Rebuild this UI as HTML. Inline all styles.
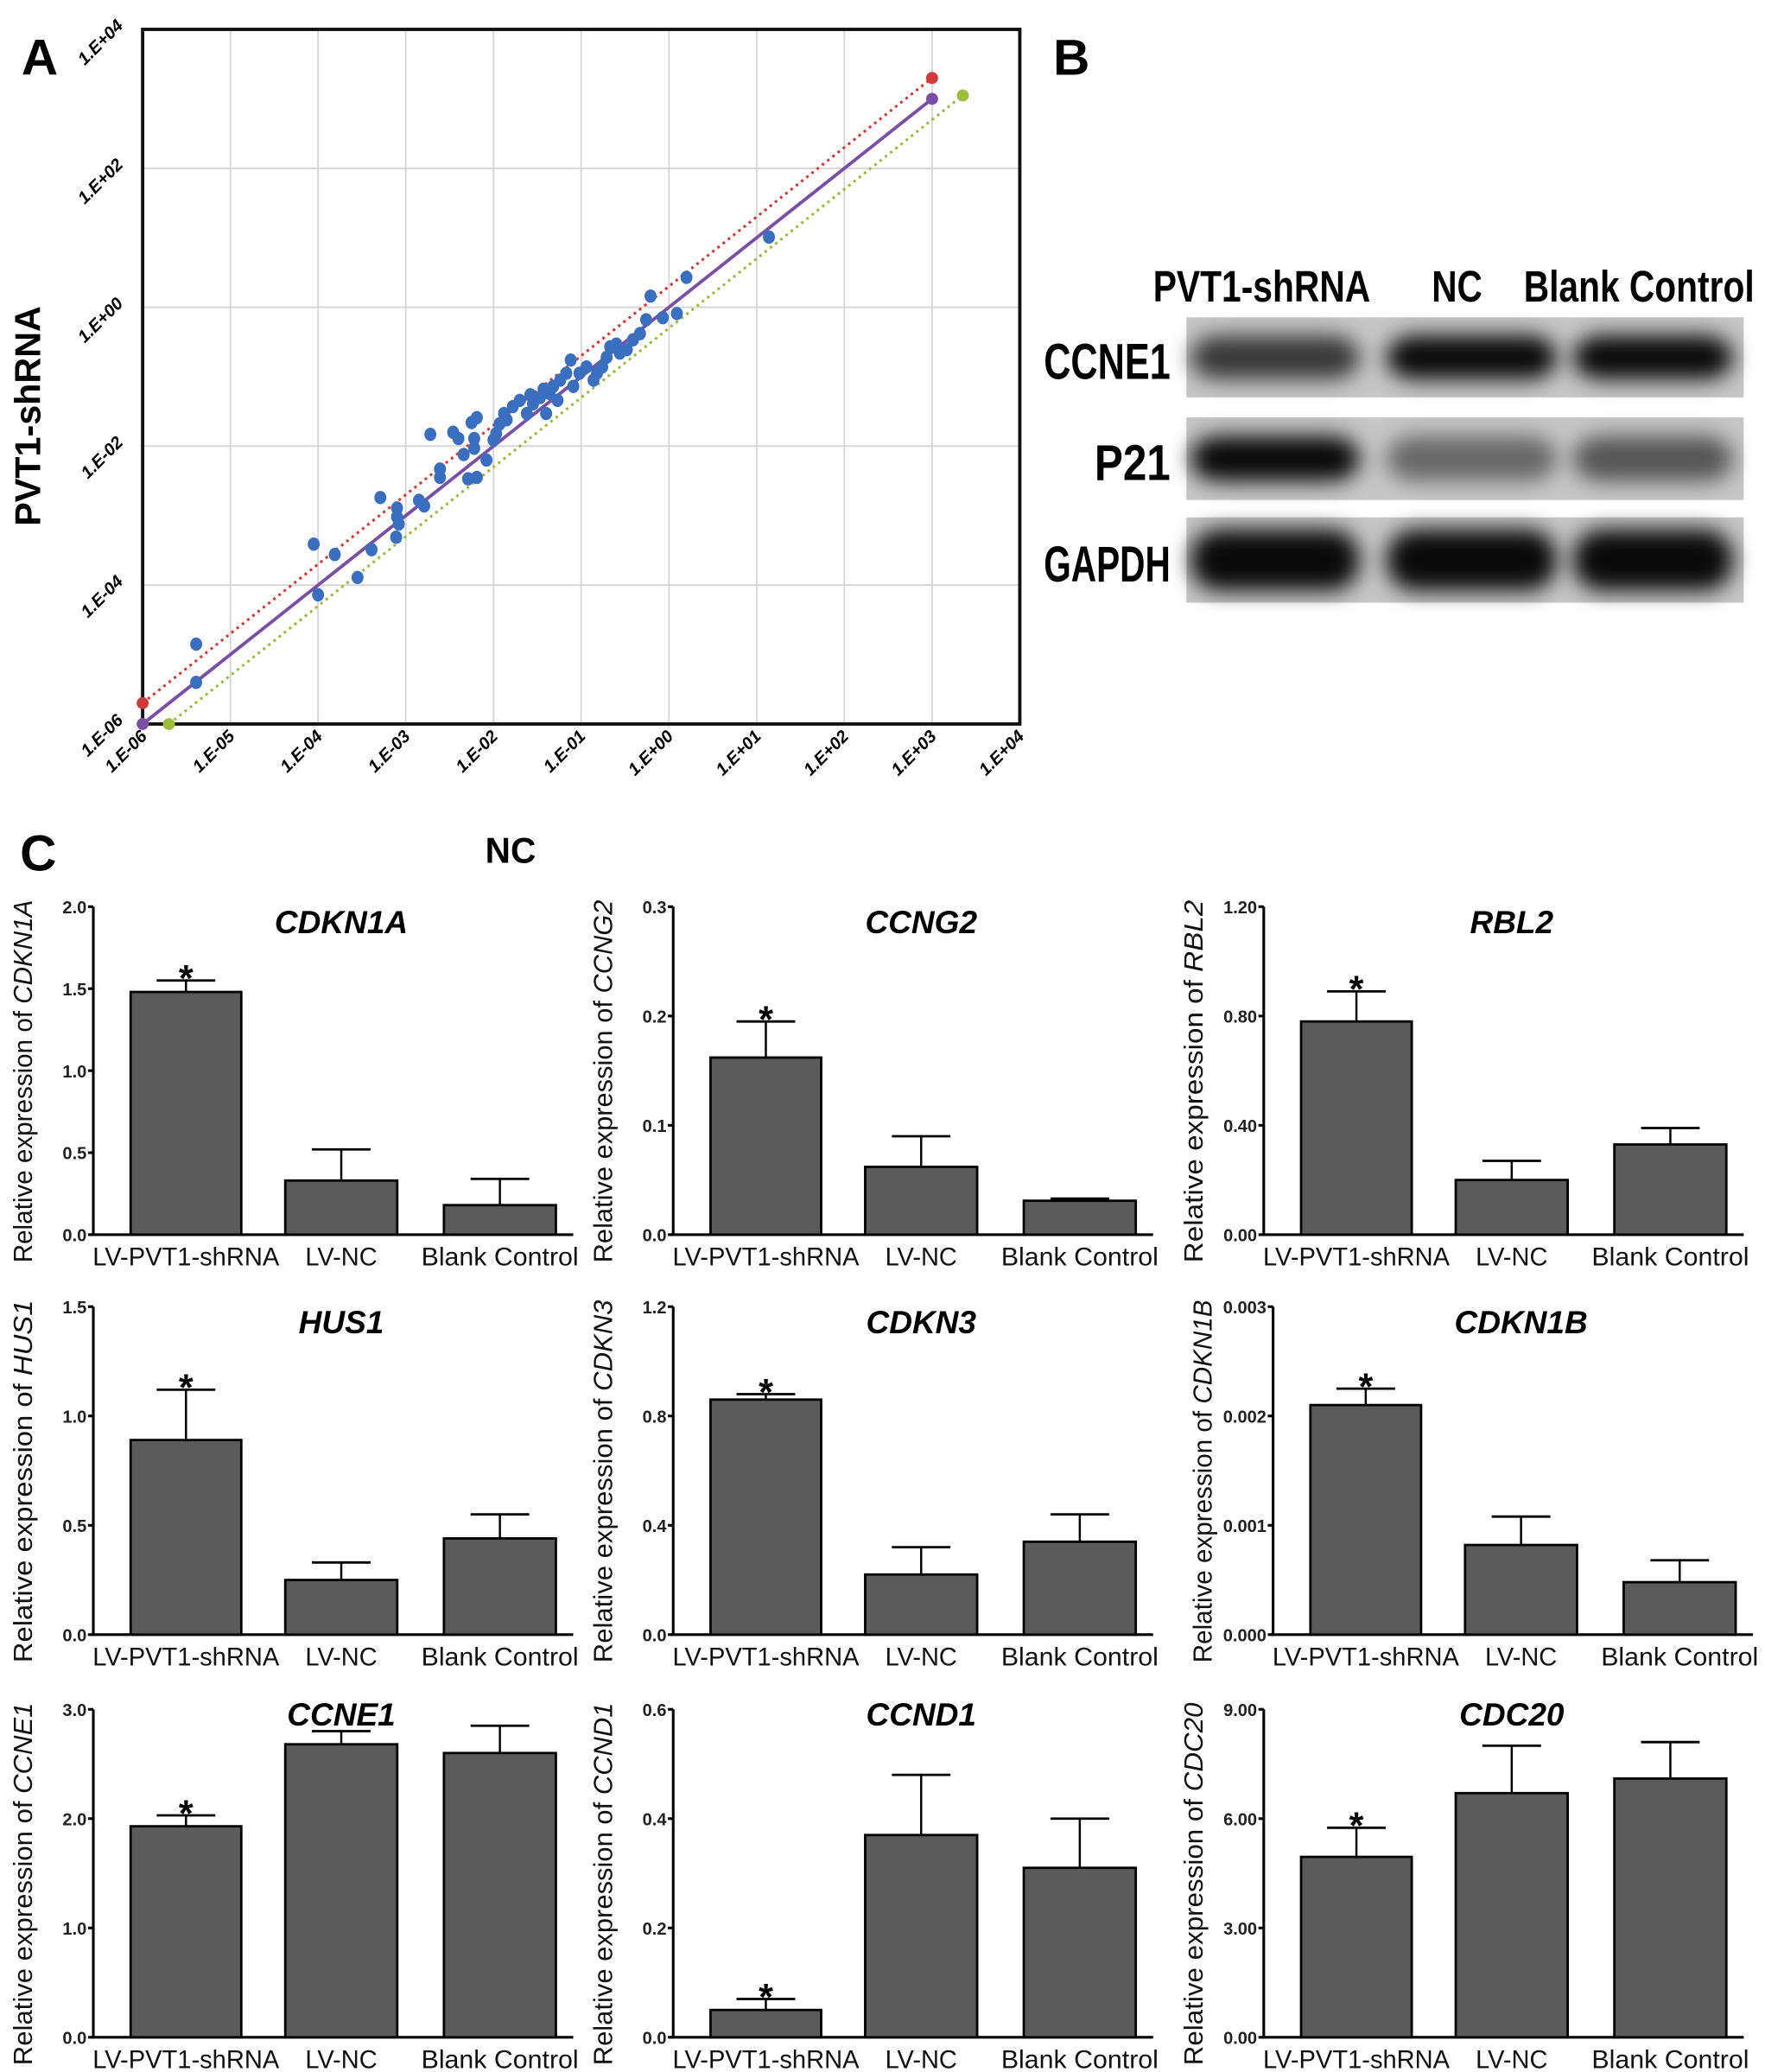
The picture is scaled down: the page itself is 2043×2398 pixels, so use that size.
<!DOCTYPE html>
<html><head><meta charset="utf-8"><style>
html,body{margin:0;padding:0;background:#fff}
svg{display:block}
text{font-family:"Liberation Sans",sans-serif}
</style></head><body>
<svg id="fig" width="2043" height="2398" viewBox="0 0 1324 1554" xmlns="http://www.w3.org/2000/svg">
<defs>
<filter id="blur" x="-30%" y="-60%" width="160%" height="220%"><feGaussianBlur stdDeviation="8"/></filter>
</defs>
<g id="panelA"></g>
<g id="panelB"></g>
<g id="panelC"></g>
</svg>
<script>
// ---------- Panel A data (log10 values) ----------
const scatterX = [-5.39,-5.39,-4.05,-4.0,-3.81,-3.55,-3.39,-3.29,-3.1,-3.1,-3.08,-3.11,-2.85,-2.79,-2.72,-2.61,-2.61,-2.46,-2.40,-2.34,-2.29,-2.19,-2.25,-2.19,-2.22,-2.22,-2.08,-2.00,-1.97,-1.93,-1.88,-1.85,-1.78,-1.70,-1.62,-1.58,-1.55,-1.47,-1.43,-1.40,-1.36,-1.32,-1.27,-1.24,-1.17,-1.12,-1.09,-1.02,-0.94,-0.86,-0.82,-0.76,-0.71,-0.67,-0.60,-0.56,-0.48,-0.41,-0.33,-0.26,-0.21,-0.07,0.09,0.20,1.14];
const scatterY = [-4.85,-5.40,-3.41,-4.14,-3.56,-3.89,-3.49,-2.74,-2.89,-3.02,-3.12,-3.31,-2.78,-2.86,-1.83,-2.33,-2.45,-1.80,-1.89,-2.12,-2.47,-2.45,-1.66,-1.59,-1.89,-2.03,-2.20,-1.91,-1.82,-1.68,-1.53,-1.62,-1.43,-1.34,-1.53,-1.26,-1.39,-1.30,-1.18,-1.53,-1.24,-1.14,-1.34,-1.05,-0.95,-0.76,-1.14,-0.95,-0.86,-1.05,-0.95,-0.86,-0.72,-0.57,-0.53,-0.66,-0.61,-0.47,-0.38,-0.18,0.16,-0.15,-0.09,0.43,1.01];
const xTicks = ["1.E-06","1.E-05","1.E-04","1.E-03","1.E-02","1.E-01","1.E+00","1.E+01","1.E+02","1.E+03","1.E+04"];
const yTicks = ["1.E-06","1.E-04","1.E-02","1.E+00","1.E+02","1.E+04"];
const refLines = [ // [name, log offset, color, dashed, xStart, xEnd]
  ["equal-line",0,"#7b4fa6",false,-6,3],
  ["upper-fold-line",0.301,"#d03a3a",true,-6,3],
  ["lower-fold-line",-0.301,"#9bbf3a",true,-5.7,3.35]
];

// ---------- Panel C data ----------
const groups = ["LV-PVT1-shRNA","LV-NC","Blank Control"];
const genes = ["CDKN1A","CCNG2","RBL2","HUS1","CDKN3","CDKN1B","CCNE1","CCND1","CDC20"];
const means = [[1.48,0.33,0.18],[0.162,0.062,0.031],[0.78,0.20,0.33],[0.89,0.25,0.44],[0.86,0.22,0.34],[0.0021,0.00082,0.00048],[1.93,2.68,2.60],[0.05,0.37,0.31],[4.95,6.7,7.1]];
const errs = [[0.07,0.19,0.16],[0.033,0.028,0.002],[0.11,0.07,0.06],[0.23,0.08,0.11],[0.02,0.10,0.10],[0.00015,0.00026,0.0002],[0.10,0.12,0.25],[0.02,0.11,0.09],[0.8,1.3,1.0]];
const yMax = [2.0,0.3,1.2,1.5,1.2,0.003,3.0,0.6,9.0];
const tickLabels = [["0.0","0.5","1.0","1.5","2.0"],["0.0","0.1","0.2","0.3"],["0.00","0.40","0.80","1.20"],["0.0","0.5","1.0","1.5"],["0.0","0.4","0.8","1.2"],["0.000","0.001","0.002","0.003"],["0.0","1.0","2.0","3.0"],["0.0","0.2","0.4","0.6"],["0.00","3.00","6.00","9.00"]];
const signif = [[1,0,0],[1,0,0],[1,0,0],[1,0,0],[1,0,0],[1,0,0],[1,0,0],[1,0,0],[1,0,0]];

const NS="http://www.w3.org/2000/svg";
function mk(tag,attrs,parent,txt){const e=document.createElementNS(NS,tag);for(const k in attrs)e.setAttribute(k,attrs[k]);if(txt!==undefined)e.textContent=txt;parent.appendChild(e);return e;}

// ---------- Panel A ----------
(function(){
  const g=document.getElementById('panelA');
  const L=107,R=765,T=22,B=543;
  const sx=v=>L+(v+6)/10*(R-L), sy=v=>B-(v+6)/10*(B-T);
  for(let i=1;i<10;i++){const l=mk('line',{x1:sx(-6+i),x2:sx(-6+i),y1:T,y2:B,stroke:'#d6d6d6','stroke-width':1.2},g);
    }
  for(let i=1;i<5;i++){const l=mk('line',{x1:L,x2:R,y1:sy(-6+2*i),y2:sy(-6+2*i),stroke:'#d6d6d6','stroke-width':1.2},g);
    }
  const box=mk('rect',{x:L,y:T,width:R-L,height:B-T,fill:'none',stroke:'#111','stroke-width':2.5},g);
  
  refLines.forEach(r=>{
    const ln=mk('line',{x1:sx(r[4]),y1:sy(r[4]+r[1]),x2:sx(r[5]),y2:sy(r[5]+r[1]),stroke:r[2],'stroke-width':r[3]?2:2.5,'stroke-dasharray':r[3]?'2 3':'none'},g);
    
    [r[4],r[5]].forEach(x=>{const c=mk('circle',{cx:sx(x),cy:sy(x+r[1]),r:4.5,fill:r[2]},g);
      });
  });
  scatterX.forEach((x,i)=>{const c=mk('ellipse',{cx:sx(x),cy:sy(scatterY[i]),rx:4.5,ry:5,fill:'#3a6fc0'},g);
    });
  xTicks.forEach((t,i)=>{const x=sx(-6+i)+4, y=B+10;const tx=mk('text',{x:x,y:y,'font-size':13,'font-weight':'bold','font-style':'italic','text-anchor':'end',transform:`rotate(-45 ${x} ${y})`},g,t);
    });
  yTicks.forEach((t,i)=>{const y=sy(-6+2*i)-2, x=L-14;const tx=mk('text',{x:x,y:y,'font-size':13,'font-weight':'bold','font-style':'italic','text-anchor':'end',transform:`rotate(-45 ${x} ${y})`},g,t);
    });
  let t=mk('text',{x:383,y:647,'font-size':27,'font-weight':'bold','text-anchor':'middle',textLength:38,lengthAdjust:'spacingAndGlyphs'},g,'NC');
  
  t=mk('text',{x:30,y:312,'font-size':27,'font-weight':'bold','text-anchor':'middle',transform:'rotate(-90 30 312)',textLength:165,lengthAdjust:'spacingAndGlyphs'},g,'PVT1-shRNA');
  
  t=mk('text',{x:16,y:56,'font-size':38,'font-weight':'bold'},g,'A');
  
  t=mk('text',{x:15,y:653,'font-size':38,'font-weight':'bold'},g,'C');
  
})();

// ---------- Panel B ----------
(function(){
  const g=document.getElementById('panelB');
  let t=mk('text',{x:790,y:56,'font-size':38,'font-weight':'bold'},g,'B');
  
  const heads=[["PVT1-shRNA",865,163],["NC",1074,38],["Blank Control",1143,173]];
  heads.forEach(h=>{const e=mk('text',{x:h[1],y:226,'font-size':33,'font-weight':'bold',textLength:h[2],lengthAdjust:'spacingAndGlyphs'},g,h[0]);
    });
  const rows=[["CCNE1",238,298,[0.75,1,1]],["P21",313,375,[1,0.5,0.6]],["GAPDH",388,452,[1,1,1]]];
  const lanes=[[893,1020],[1040,1168],[1180,1300]];
  rows.forEach(r=>{
    const lab=mk('text',{x:878,y:(r[1]+r[2])/2+16,'font-size':38,'font-weight':'bold','text-anchor':'end',textLength:r[0].length*19,lengthAdjust:'spacingAndGlyphs'},g,r[0]);
    
    const bg=mk('rect',{x:890,y:r[1],width:418,height:r[2]-r[1],fill:'#c6c6c6'},g);
    
    lanes.forEach((ln,i)=>{const h=(r[2]-r[1])*(r[0]==='GAPDH'?0.72:0.55);
      const b=mk('rect',{x:ln[0],y:(r[1]+r[2])/2-h/2,width:ln[1]-ln[0],height:h,rx:22,fill:'#000','fill-opacity':r[3][i]*0.95,filter:'url(#blur)'},g);
      });
  });
})();

// ---------- Panel C ----------
(function(){
  const g=document.getElementById('panelC');
  const axX=[70,505,948], top=[680,980,1282], bot=[926,1226,1528];
  const titleOff=[20,20,12];
  const barOff=[[28,111],[144,228],[263,347]];
  const axX2={5:955};
  genes.forEach((gene,k)=>{
    const row=Math.floor(k/3),col=k%3;
    const ax=axX2[k]||axX[col], T=top[row], B=bot[row];
    const sy=v=>B-v/yMax[k]*(B-T);
    const grp=mk('g',{},g);
    
    let l=mk('line',{x1:ax,x2:ax,y1:T,y2:B,stroke:'#000','stroke-width':2},grp);
    
    l=mk('line',{x1:ax-2,x2:ax+360,y1:B,y2:B,stroke:'#000','stroke-width':2},grp);
    
    tickLabels[k].forEach((tl,i)=>{const v=i*yMax[k]/(tickLabels[k].length-1);
      const tk=mk('line',{x1:ax-4,x2:ax,y1:sy(v),y2:sy(v),stroke:'#000','stroke-width':2},grp);
      
      const tx=mk('text',{x:ax-5,y:sy(v)+5,'font-size':13,'font-weight':'bold','text-anchor':'end',fill:'#222'},grp,tl);
      });
    groups.forEach((gr,i)=>{
      const x0=ax+barOff[i][0], x1=ax+barOff[i][1], m=means[k][i], e=errs[k][i], cx=(x0+x1)/2;
      const el=mk('line',{x1:cx,x2:cx,y1:sy(m),y2:sy(m+e),stroke:'#000','stroke-width':1.6},grp);
      
      const ec=mk('line',{x1:cx-22,x2:cx+22,y1:sy(m+e),y2:sy(m+e),stroke:'#000','stroke-width':1.8},grp);
      
      const r=mk('rect',{x:x0,y:sy(m),width:x1-x0,height:B-sy(m),fill:'#5b5b5b',stroke:'#000','stroke-width':1.8},grp);
      
      if(signif[k][i]){const s=mk('text',{x:cx,y:sy(m+e)+8,'font-size':28,'font-weight':'bold','text-anchor':'middle'},grp,'*');
        }
      const cl=mk('text',{x:cx,y:B+23,'font-size':19,'text-anchor':'middle',textLength:[140,54,118][i],lengthAdjust:'spacingAndGlyphs',fill:'#111'},grp,gr);
      
    });
    const tt=mk('text',{x:ax+186,y:T+titleOff[row],'font-size':24,'font-weight':'bold','font-style':'italic','text-anchor':'middle'},grp,gene);
    
    const yx=ax-46, yy=(T+B)/2+8;
    const yl=mk('text',{x:yx,y:yy,'font-size':20,'text-anchor':'middle',transform:`rotate(-90 ${yx} ${yy})`,textLength:272,lengthAdjust:'spacingAndGlyphs',fill:'#111'},grp);
    
    mk('tspan',{},yl,'Relative expression of ');
    mk('tspan',{'font-style':'italic'},yl,gene);
  });
})();
</script>
</body></html>
